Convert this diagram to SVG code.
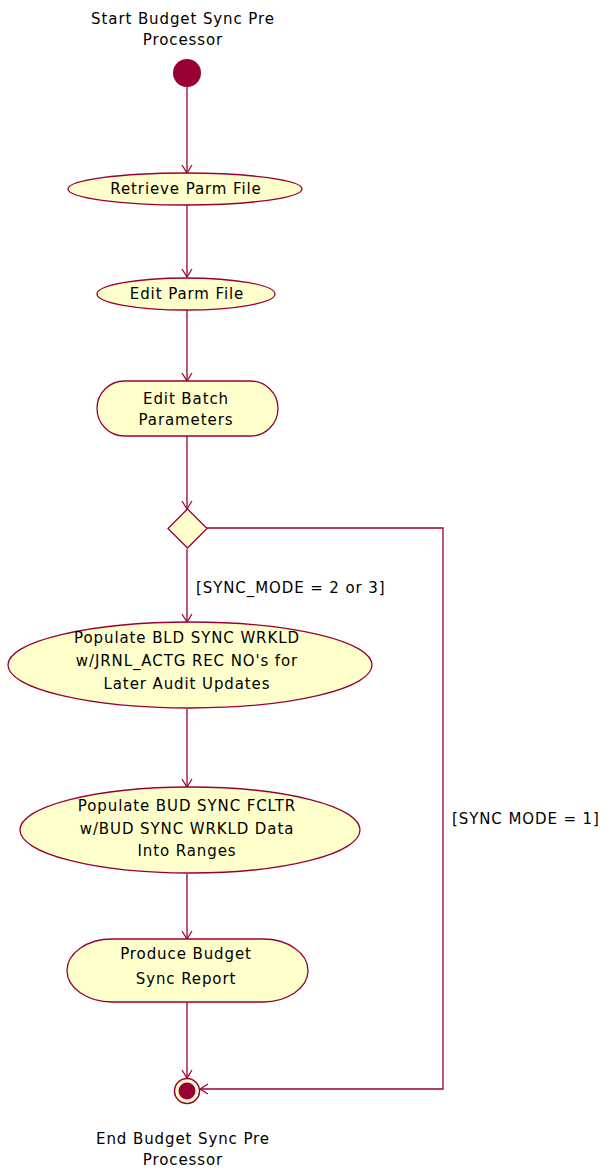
<svg xmlns="http://www.w3.org/2000/svg" width="602" height="1170" viewBox="0 0 602 1170">
  <defs>
    <marker id="arrow" markerWidth="12" markerHeight="12" refX="10" refY="6" orient="auto" markerUnits="userSpaceOnUse">
      <path d="M2,1 L10,6 L2,11" fill="none" stroke="#990033" stroke-width="1.2"/>
    </marker>
  </defs>
  <style>
    .act { fill: #ffffcc; stroke: #990033; stroke-width: 1.3; }
    .edge { fill: none; stroke: #990033; stroke-width: 1.3; marker-end: url(#arrow); }
    .lbl { font-family: "DejaVu Sans", sans-serif; font-size: 15px; letter-spacing: 0.9px; fill: #000; text-anchor: middle; }
    .guard { font-family: "DejaVu Sans", sans-serif; font-size: 15px; letter-spacing: 0.9px; fill: #000; }
  </style>
  <rect width="602" height="1170" fill="#ffffff"/>

  <!-- connectors -->
  <g id="connectors">
    <line class="edge" x1="187" y1="87" x2="187" y2="173"/>
    <line class="edge" x1="187" y1="205" x2="187" y2="277"/>
    <line class="edge" x1="187" y1="310" x2="187" y2="381"/>
    <line class="edge" x1="187" y1="436" x2="187" y2="509"/>
    <line class="edge" x1="187" y1="549" x2="187" y2="622"/>
    <line class="edge" x1="187" y1="709" x2="187" y2="787"/>
    <line class="edge" x1="187" y1="874" x2="187" y2="939"/>
    <line class="edge" x1="187" y1="1002" x2="187" y2="1078"/>
    <polyline class="edge" points="207,528 443,528 443,1089 200,1089"/>
    <text class="guard" x="196" y="593">[SYNC_MODE = 2 or 3]</text>
    <text class="guard" x="452" y="824">[SYNC MODE = 1]</text>
  </g>

  <g id="start">
    <text class="lbl" x="183" y="24">Start Budget Sync Pre</text>
    <text class="lbl" x="183" y="45">Processor</text>
    <circle cx="187" cy="73" r="14" fill="#990033"/>
  </g>

  <g id="retrieve-parm-file">
    <ellipse class="act" cx="185" cy="189" rx="117" ry="16"/>
    <text class="lbl" x="186" y="194">Retrieve Parm File</text>
  </g>

  <g id="edit-parm-file">
    <ellipse class="act" cx="186" cy="294" rx="89" ry="16"/>
    <text class="lbl" x="187" y="299">Edit Parm File</text>
  </g>

  <g id="edit-batch-parameters">
    <rect class="act" x="97" y="381" width="181" height="55" rx="27.5" ry="27.5"/>
    <text class="lbl" x="186" y="404">Edit Batch</text>
    <text class="lbl" x="186" y="425">Parameters</text>
  </g>

  <g id="decision">
    <polygon class="act" points="187.5,509 207,528.5 187.5,548 168,528.5"/>
  </g>

  <g id="populate-wrkld">
    <ellipse class="act" cx="190" cy="665" rx="182" ry="43"/>
    <text class="lbl" x="187" y="643">Populate BLD SYNC WRKLD</text>
    <text class="lbl" x="187" y="666">w/JRNL_ACTG REC NO's for</text>
    <text class="lbl" x="187" y="689">Later Audit Updates</text>
  </g>

  <g id="populate-fcltr">
    <ellipse class="act" cx="190" cy="830" rx="170" ry="43"/>
    <text class="lbl" x="187" y="811">Populate BUD SYNC FCLTR</text>
    <text class="lbl" x="187" y="834">w/BUD SYNC WRKLD Data</text>
    <text class="lbl" x="187" y="856">Into Ranges</text>
  </g>

  <g id="produce-report">
    <rect class="act" x="67" y="939" width="241" height="63" rx="45" ry="31.5"/>
    <text class="lbl" x="186" y="959">Produce Budget</text>
    <text class="lbl" x="186" y="984">Sync Report</text>
  </g>

  <g id="end">
    <circle cx="187" cy="1091" r="12.5" fill="#ffffcc" stroke="#990033" stroke-width="1.5"/>
    <circle cx="187" cy="1091" r="8.5" fill="#990033"/>
    <text class="lbl" x="183" y="1144">End Budget Sync Pre</text>
    <text class="lbl" x="183" y="1165">Processor</text>
  </g>
</svg>
